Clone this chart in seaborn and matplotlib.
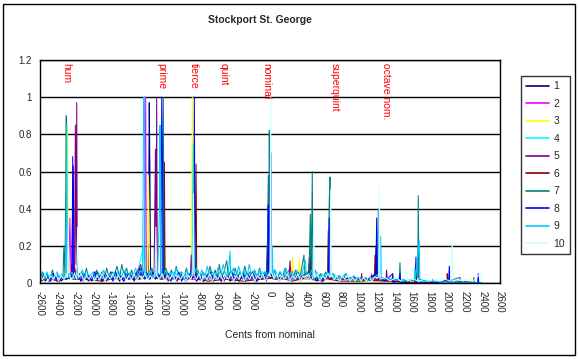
import pandas as pd
import numpy as np
import matplotlib.pyplot as plt
import seaborn as sns
from matplotlib.patches import Rectangle

# Bell partial spectra, (cents from nominal, relative amplitude) per recording
bell_1 = [(-2600, .02), (-2560, .04), (-2500, .01), (-2460, .05), (-2420, .03), (-2385, .01), (-2350, .04),
          (-2300, .02), (-2240, .05), (-2225, .63), (-2215, .1), (-2185, .02), (-2150, .05), (-2110, .01),
          (-2050, .04), (-2000, .02), (-1950, .06), (-1900, .01), (-1850, .04), (-1800, .02), (-1750, .05),
          (-1700, .01), (-1650, .06), (-1600, .02), (-1550, .04), (-1510, .02),
          (-1470, .08), (-1440, .03), (-1375, .05), (-1365, .97), (-1358, .63), (-1350, .04), (-1280, .05),
          (-1240, .02), (-1200, .08), (-1150, .03), (-1100, .05), (-1050, .02), (-1000, .04), (-950, .01),
          (-870, .05), (-830, .01), (-800, .03), (-750, .01), (-700, .05), (-650, .02), (-600, .04), (-550, .01),
          (-500, .04), (-450, .01), (-400, .03), (-350, .01), (-300, .05), (-250, .02), (-200, .03), (-150, .01),
          (-100, .04), (-40, .04), (-30, .2),
          (-20, .03), (80, .02), (180, .04), (300, .02), (400, .05), (455, .04), (463, .18), (472, .03),
          (560, .02), (700, .03), (850, .02), (1000, .01), (1100, .02), (1190, .04), (1198, .2), (1206, .03),
          (1350, .01), (1600, .01), (1800, 0), (2100, .01), (2400, 0)]
bell_2 = [(-2600, .01), (-2480, .02), (-2380, .01), (-2275, .04), (-2262, .35), (-2250, .05), (-2100, .02),
          (-1900, .03), (-1700, .02), (-1500, .04), (-1420, .06), (-1405, 1.0), (-1398, .05), (-1300, .03),
          (-1150, .02), (-1000, .03), (-880, .02), (-700, .02), (-450, .03), (-200, .02), (0, .03), (150, .02),
          (230, .08), (300, .02), (500, .02), (700, .03), (900, .02), (1140, .02), (1149, .05), (1160, .01),
          (1400, .01), (1800, 0), (2400, 0)]
bell_3 = [(-2600, .01), (-2450, .02), (-2300, .03), (-2290, .85), (-2280, .04), (-2150, .02), (-1950, .03),
          (-1750, .02), (-1550, .03), (-1385, .04), (-1375, .58), (-1366, .04), (-1250, .03), (-1100, .02),
          (-890, .05), (-878, 1.0), (-870, .05), (-750, .02), (-550, .03), (-300, .02), (-100, .03), (100, .02),
          (240, .03), (256, .14), (270, .02), (320, .03), (331, .12), (342, .02), (550, .02), (750, .03),
          (1000, .01), (1400, .01), (2400, 0)]
bell_4 = [(-2600, .02), (-2500, .04), (-2400, .02), (-2300, .05), (-2200, .03), (-2100, .05), (-2000, .02),
          (-1900, .04), (-1800, .03), (-1700, .06), (-1600, .03), (-1500, .05), (-1430, .2), (-1420, .04),
          (-1300, .05), (-1200, .04), (-1100, .06), (-1000, .03), (-900, .05), (-855, .3), (-845, .04),
          (-700, .05), (-600, .03), (-500, .06), (-400, .04), (-300, .05), (-200, .03), (-100, .06), (0, .05),
          (100, .03), (200, .05), (300, .04), (400, .06), (500, .03), (600, .04), (700, .05), (800, .03),
          (900, .02), (1000, .03), (1150, .02), (1300, .02), (1500, .01), (1800, .01), (2400, 0)]
bell_5 = [(-2600, .02), (-2540, .05), (-2490, .01), (-2450, .04), (-2400, .01), (-2350, .03), (-2210, .06),
          (-2200, .85), (-2192, .1), (-2185, .97), (-2178, .05), (-2140, .01), (-2100, .04), (-2050, .01),
          (-2000, .05), (-1950, .02), (-1900, .04), (-1850, .01), (-1800, .06), (-1750, .02), (-1700, .04),
          (-1650, .01), (-1600, .05), (-1550, .02), (-1500, .06), (-1460, .1),
          (-1445, .04), (-1310, .05), (-1295, .72), (-1288, .06), (-1281, 1.0), (-1274, .05), (-1230, .02),
          (-1190, .05), (-1150, .01), (-1100, .04), (-1050, .01), (-1000, .05), (-950, .02), (-900, .04),
          (-890, .15), (-880, .03), (-820, .05), (-750, .01), (-700, .04), (-650, .02), (-600, .05), (-550, .01),
          (-500, .04), (-450, .02), (-400, .05), (-350, .01), (-300, .04), (-250, .02), (-200, .06), (-150, .01),
          (-80, .05), (50, .02), (215, .03), (226, .12), (237, .02), (435, .03), (444, .14), (453, .03),
          (600, .02), (800, .03), (1000, .02), (1310, .01), (1318, .07), (1326, .01), (1600, 0), (1830, 0),
          (1838, .02), (1846, 0), (2400, 0)]
bell_6 = [(-2600, .01), (-2500, .03), (-2400, .01), (-2250, .03), (-2240, .1), (-2230, .02), (-2100, .02),
          (-1900, .01), (-1700, .03), (-1500, .02), (-1350, .03), (-1200, .02), (-1194, .65), (-1186, .03),
          (-1050, .02), (-850, .03), (-836, .64), (-828, .02), (-700, .01), (-500, .02), (-300, .01), (-100, .02),
          (100, .03), (250, .01), (433, .03), (443, .1), (452, .02), (600, .01), (650, .03), (659, .28),
          (667, .02), (800, .01), (1030, .01), (1036, .05), (1042, .01), (1180, .02), (1187, .15), (1194, .02),
          (1380, .01), (1386, .05), (1392, .01), (1632, 0), (1638, .03), (1644, 0), (2000, 0), (2004, .05),
          (2010, 0), (2400, 0)]
bell_7 = [(-2600, .03), (-2570, .06), (-2545, .02), (-2520, .05), (-2490, .01), (-2460, .07), (-2430, .02),
          (-2400, .05), (-2370, .02), (-2340, .04), (-2330, .2), (-2318, .04), (-2309, .5), (-2303, .9),
          (-2296, .05), (-2270, .02), (-2245, .06), (-2215, .03), (-2185, .07), (-2160, .02), (-2130, .06),
          (-2100, .03), (-2075, .08), (-2050, .02), (-2020, .05), (-1990, .03), (-1960, .07), (-1930, .02),
          (-1900, .06), (-1870, .03), (-1845, .08), (-1815, .02), (-1785, .06), (-1760, .04), (-1730, .09),
          (-1700, .03), (-1675, .1), (-1650, .04), (-1620, .08), (-1595, .02), (-1565, .07), (-1540, .03),
          (-1510, .06), (-1480, .02), (-1455, .07), (-1425, .03), (-1395, .06), (-1365, .02), (-1335, .08),
          (-1305, .03), (-1275, .06), (-1245, .02), (-1212, .05), (-1206, 1.0), (-1199, .05), (-1175, .08),
          (-1145, .03), (-1115, .07), (-1090, .02), (-1060, .09), (-1030, .03), (-1000, .06), (-975, .02),
          (-945, .08), (-915, .03), (-885, .05), (-850, .2), (-840, .04), (-815, .07), (-790, .02), (-760, .06),
          (-730, .03), (-700, .04), (-678, .09), (-650, .03), (-620, .07), (-595, .02), (-573, .1), (-550, .03),
          (-520, .06), (-489, .12), (-470, .03), (-445, .07), (-420, .02), (-395, .08), (-365, .03), (-340, .06),
          (-310, .02), (-285, .09), (-255, .03), (-230, .06), (-200, .02), (-175, .07), (-145, .03), (-120, .08),
          (-90, .02), (-60, .06), (-35, .03), (-19, .58), (-12, .1), (-8, .82), (-2, .06), (25, .03), (50, .07),
          (80, .02), (110, .06), (140, .03), (170, .08), (200, .02), (230, .05), (260, .03), (290, .07),
          (320, .02), (350, .06), (384, .15), (395, .04), (420, .06), (440, .03), (456, .37), (466, .05),
          (478, .6), (486, .04), (510, .07), (540, .02), (570, .05), (600, .02), (630, .06), (655, .03),
          (670, .45), (678, .57), (686, .04), (715, .05), (745, .02), (780, .04), (820, .02), (860, .05),
          (900, .01), (950, .03), (1000, .01), (1050, .03), (1150, .02), (1215, .05), (1224, .4), (1232, .03),
          (1350, .02), (1462, .02), (1469, .11), (1476, .02), (1580, .01), (1670, .03), (1676, .47), (1683, .02),
          (1800, .01), (1950, 0), (2148, .03), (2155, 0), (2300, 0), (2306, .03), (2312, 0), (2400, 0)]
bell_8 = [(-2600, .01), (-2570, .04), (-2540, .01), (-2510, .03), (-2480, .01), (-2450, .05), (-2420, .02),
          (-2390, .04), (-2360, .01), (-2330, .03), (-2300, .02), (-2270, .05), (-2238, .03), (-2230, .68),
          (-2222, .05), (-2195, .02), (-2165, .04), (-2135, .01), (-2105, .05), (-2075, .02), (-2045, .04),
          (-2015, .01), (-1985, .06), (-1955, .02), (-1925, .04), (-1895, .01), (-1865, .05), (-1835, .02),
          (-1805, .04), (-1775, .01), (-1745, .06), (-1715, .02), (-1685, .04), (-1655, .01), (-1625, .05),
          (-1595, .02), (-1565, .04), (-1535, .01), (-1505, .06), (-1475, .02), (-1445, .08), (-1415, .02),
          (-1385, .05), (-1355, .02), (-1325, .06), (-1295, .02), (-1265, .05), (-1235, .03), (-1224, 1.0),
          (-1215, .65), (-1208, .06), (-1180, .02), (-1150, .05), (-1120, .01), (-1090, .04), (-1060, .02),
          (-1030, .06), (-1000, .01), (-970, .04), (-940, .02), (-910, .05), (-880, .02), (-862, .06),
          (-855, 1.0), (-848, .05), (-820, .02), (-790, .05), (-760, .01), (-730, .04), (-700, .02), (-670, .06),
          (-640, .01), (-610, .04), (-580, .02), (-550, .05), (-520, .01), (-490, .04), (-460, .02), (-430, .06),
          (-400, .01), (-370, .04), (-340, .02), (-310, .05), (-280, .01), (-250, .04), (-220, .02), (-190, .06),
          (-160, .01), (-130, .04), (-100, .02), (-70, .05), (-40, .01), (-24, .05), (-19, .42), (-14, .05),
          (11, .7), (18, .04), (45, .02), (75, .05), (105, .01), (135, .04), (165, .02), (195, .05), (225, .01),
          (255, .04), (285, .02), (315, .06), (345, .01), (375, .04), (405, .02), (435, .05), (465, .02),
          (495, .04), (525, .01), (555, .03), (585, .01), (615, .03), (662, .04), (670, .35), (676, .03),
          (800, .02), (950, .03), (1100, .02), (1198, .05), (1206, .35), (1213, .03), (1300, .01), (1386, .05),
          (1392, 0), (1460, .02), (1469, .05), (1476, 0), (1640, .02), (1650, .14), (1657, 0), (1900, 0),
          (2020, .02), (2027, .09), (2034, 0), (2200, 0), (2348, 0), (2354, .05), (2360, 0), (2400, 0)]
bell_9 = [(-2600, .03), (-2575, .05), (-2550, .02), (-2525, .06), (-2495, .03), (-2470, .05), (-2440, .02),
          (-2410, .06), (-2380, .03), (-2350, .05), (-2320, .02), (-2305, .06), (-2298, .85), (-2291, .05),
          (-2265, .03), (-2240, .06), (-2210, .02), (-2180, .05), (-2150, .03), (-2120, .07), (-2090, .02),
          (-2060, .05), (-2030, .03), (-2000, .06), (-1970, .02), (-1940, .05), (-1910, .03), (-1880, .07),
          (-1850, .02), (-1820, .05), (-1790, .03), (-1760, .06), (-1730, .02), (-1700, .05), (-1670, .03),
          (-1640, .07), (-1610, .02), (-1580, .06), (-1550, .03), (-1520, .08), (-1490, .04), (-1460, .07),
          (-1440, .05), (-1428, 1.0), (-1420, 1.0), (-1412, .06), (-1385, .03), (-1355, .07), (-1325, .03),
          (-1295, .06), (-1270, .04), (-1250, .4), (-1243, .85), (-1236, .05), (-1210, .03), (-1180, .07),
          (-1150, .03), (-1120, .06), (-1090, .02), (-1060, .08), (-1030, .03), (-1000, .06), (-970, .02),
          (-940, .07), (-910, .03), (-880, .06), (-866, .75), (-858, .05), (-830, .08), (-800, .03), (-770, .07),
          (-740, .02), (-710, .09), (-680, .03), (-650, .06), (-620, .02), (-590, .08), (-560, .03), (-530, .1),
          (-500, .04), (-470, .06), (-452, .17), (-444, .04), (-415, .08), (-385, .03), (-355, .09), (-325, .04),
          (-295, .07), (-265, .02), (-235, .1), (-205, .04), (-175, .07), (-145, .03), (-115, .08), (-85, .03),
          (-55, .06), (-25, .04), (0, .07), (20, .05), (26, .2), (33, .04), (60, .07), (90, .03), (120, .06),
          (150, .02), (180, .08), (210, .03), (240, .06), (270, .02), (300, .07), (330, .03), (360, .05),
          (400, .12), (410, .05), (440, .03), (470, .07), (500, .02), (530, .06), (560, .03), (590, .05),
          (620, .02), (650, .06), (680, .03), (710, .05), (740, .02), (770, .04), (800, .02), (850, .05),
          (900, .02), (950, .04), (1000, .01), (1050, .03), (1100, .01), (1244, .05), (1251, .25), (1258, .03),
          (1380, .02), (1500, .01), (1632, .02), (1638, .08), (1645, .02), (1687, .23), (1694, .01), (1850, .01),
          (2050, 0), (2400, 0)]
bell_10 = [(-2600, .04), (-2570, .02), (-2540, .05), (-2510, .01), (-2480, .04), (-2450, .02), (-2420, .05),
           (-2390, .01), (-2360, .04), (-2330, .02), (-2300, .05), (-2290, .03), (-2280, .3), (-2270, .04),
           (-2240, .02), (-2210, .05), (-2185, .02), (-2175, .3), (-2165, .03), (-2135, .05), (-2105, .01),
           (-2075, .04), (-2045, .02), (-2015, .05), (-1985, .01), (-1955, .04), (-1925, .02), (-1895, .05),
           (-1865, .01), (-1835, .04), (-1805, .02), (-1775, .05), (-1745, .01), (-1715, .04), (-1685, .02),
           (-1655, .05), (-1625, .01), (-1595, .04), (-1565, .02), (-1535, .05), (-1505, .01), (-1475, .04),
           (-1445, .02), (-1415, .05), (-1385, .01), (-1355, .04), (-1325, .02), (-1300, .04), (-1290, .3),
           (-1280, .04), (-1250, .02), (-1220, .05), (-1190, .01), (-1160, .04), (-1130, .02), (-1100, .05),
           (-1070, .01), (-1040, .04), (-1010, .02), (-980, .05), (-950, .01), (-920, .04), (-895, .02),
           (-873, .05), (-866, .48), (-858, .04), (-830, .02), (-800, .05), (-770, .01), (-740, .04), (-710, .02),
           (-680, .05), (-650, .01), (-620, .04), (-590, .02), (-560, .05), (-530, .01), (-500, .04), (-470, .02),
           (-440, .05), (-410, .01), (-380, .04), (-350, .02), (-320, .05), (-290, .01), (-260, .04), (-230, .02),
           (-200, .05), (-170, .01), (-140, .04), (-110, .02), (-80, .05), (-50, .01), (-20, .04), (0, .05),
           (8, 1.0), (15, .06), (45, .02), (75, .05), (105, .01), (135, .04), (165, .02), (195, .05), (225, .01),
           (255, .04), (285, .02), (315, .05), (345, .01), (375, .04), (405, .02), (435, .05), (465, .01),
           (490, .04), (497, .32), (505, .03), (535, .05), (565, .01), (595, .04), (625, .02), (655, .05),
           (680, .03), (686, .5), (694, .04), (725, .02), (755, .04), (785, .01), (815, .04), (845, .02),
           (875, .04), (905, .01), (935, .03), (965, .01), (995, .04), (1030, .01), (1060, .03), (1090, .01),
           (1120, .04), (1150, .01), (1180, .03), (1228, .03), (1236, .52), (1244, .02), (1300, .03), (1360, .01),
           (1420, .03), (1480, .01), (1545, .07), (1552, .01), (1620, .02), (1680, .01), (1740, .02), (1800, .01),
           (1860, .02), (1920, .01), (1980, .02), (2040, .01), (2061, .22), (2068, .01), (2120, .02), (2180, .01),
           (2240, .02), (2300, .01), (2392, .06), (2400, 0)]

series_names = ['1', '2', '3', '4', '5', '6', '7', '8', '9', '10']
all_series = [bell_1, bell_2, bell_3, bell_4, bell_5, bell_6, bell_7, bell_8, bell_9, bell_10]
colours = ['#000080', '#FF00FF', '#FFFF00', '#00FFFF', '#800080',
           '#800000', '#008080', '#0000FF', '#00CCFF', '#CCFFFF']

# partial names and where they are written
partials = ['hum', 'prime', 'tierce', 'quint', 'nominal', 'superquint', 'octave nom.']
partial_cents = [-2305, -1224, -866, -520, -38, 735, 1307]

rows = []
for name, pts in zip(series_names, all_series):
    for c, v in pts:
        rows.append((name, c, v))
df = pd.DataFrame(rows, columns=['series', 'cents', 'amp'])

sns.set_style('white')
plt.rcParams['font.family'] = ['Liberation Sans', 'DejaVu Sans']
plt.rcParams['axes.unicode_minus'] = False

fig = plt.figure(figsize=(5.78, 3.59), dpi=100)
ax = fig.add_axes([40 / 578, 1 - 283 / 359, 460 / 578, 223 / 359])

sns.lineplot(data=df, x='cents', y='amp', hue='series', hue_order=series_names,
             palette=colours, estimator=None, lw=0.75, ax=ax)

ax.set_xlim(-2600, 2600)
ax.set_ylim(0, 1.2)
ax.set_xticks(np.arange(-2600, 2601, 200))
ax.set_yticks([0, 0.2, 0.4, 0.6, 0.8, 1.0, 1.2])
ax.set_yticklabels(['0', '0.2', '0.4', '0.6', '0.8', '1', '1.2'])
ax.tick_params(axis='x', rotation=-90, labelsize=7, direction='out', length=4, width=1, pad=2)
ax.tick_params(axis='y', labelsize=7, direction='out', length=4, width=1, pad=2)
ax.yaxis.grid(True, color='black', lw=1)
for s in ax.spines.values():
    s.set_color('black')
    s.set_linewidth(1)

ax.set_ylabel('')
ax.set_xlabel('Cents from nominal', fontsize=7.5)
ax.xaxis.set_label_coords(0.5, -0.21)

for name, c in zip(partials, partial_cents):
    ax.text(c, 1.185, name, rotation=-90, color='red', ha='center', va='top', fontsize=7.5)

leg = ax.legend(loc='upper left', bbox_to_anchor=(521 / 578, 1 - 76 / 359), bbox_transform=fig.transFigure,
                frameon=True, fancybox=False, edgecolor='black', fontsize=7.5, handlelength=2.2,
                labelspacing=0.72, borderpad=0.5, handletextpad=0.4, borderaxespad=0)
leg.get_frame().set_linewidth(1)
for line in leg.get_lines():
    line.set_linewidth(1.2)

fig.text(0.45, 1 - 20 / 359, 'Stockport St. George', ha='center', va='center',
         fontweight='bold', fontsize=7.5)
fig.patches.append(Rectangle((0.006, 0.011), 0.988, 0.978, transform=fig.transFigure,
                             fill=False, ec='black', lw=1))

fig.savefig('out.png', dpi=100)
